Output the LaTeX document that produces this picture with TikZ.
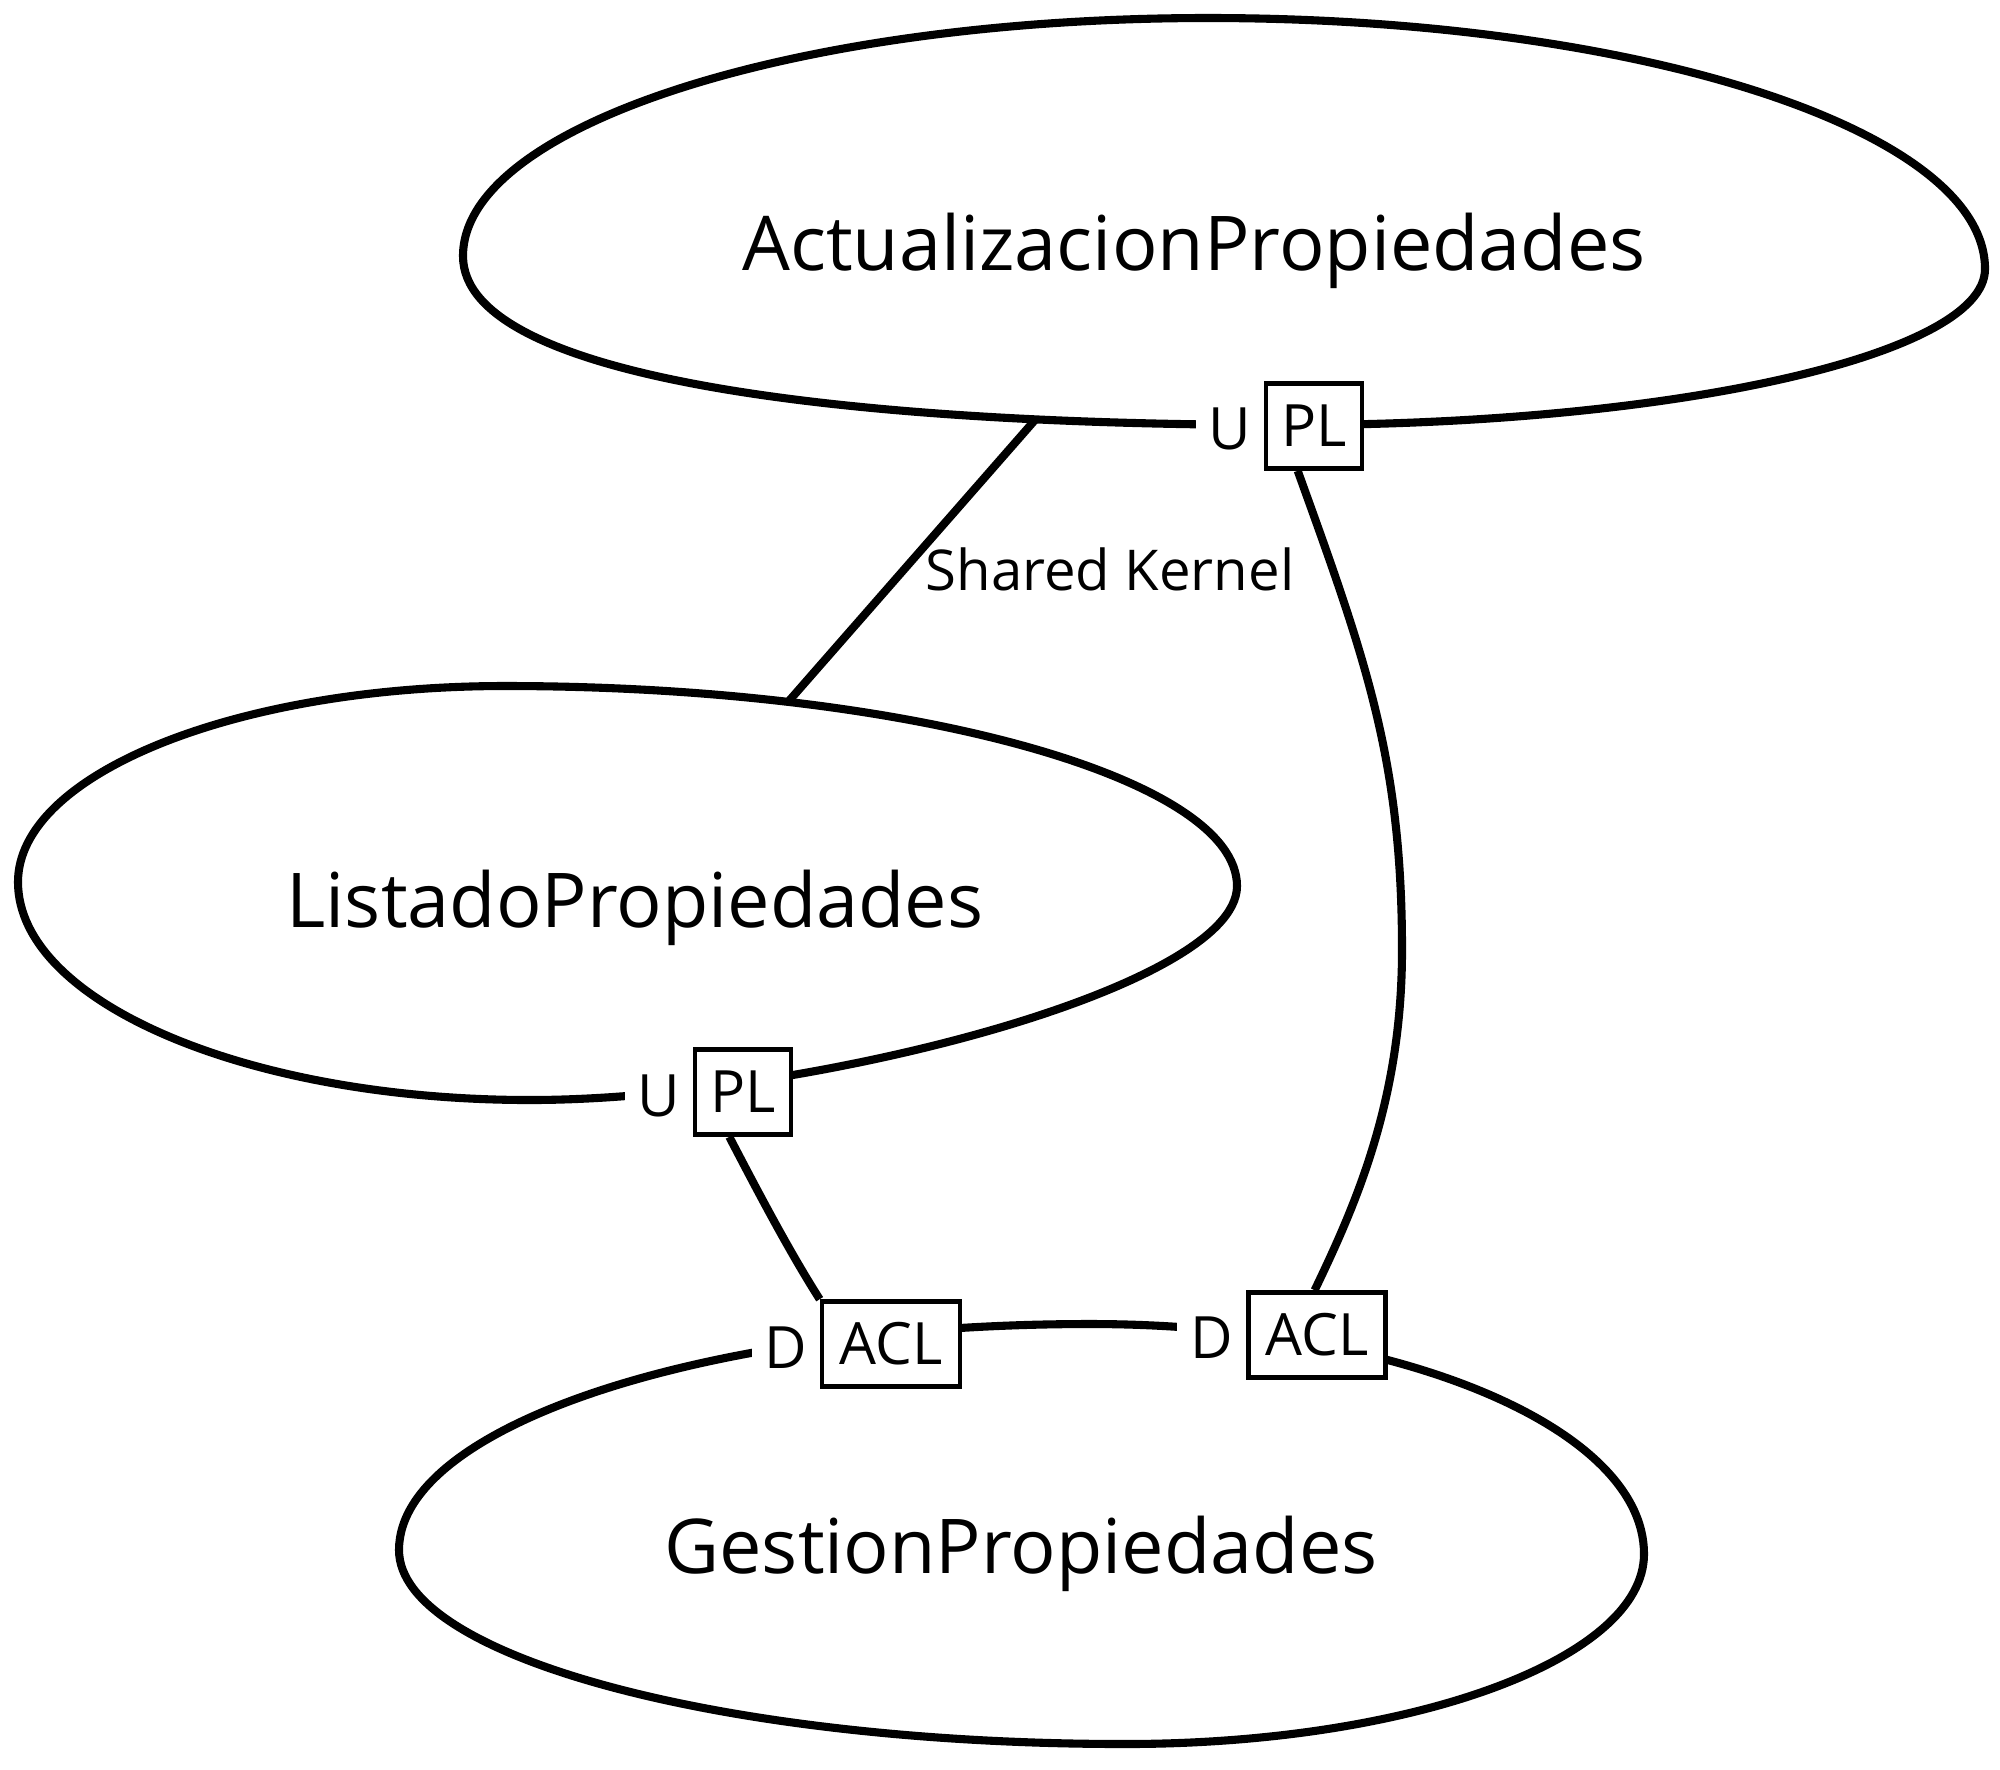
\documentclass[tikz,border=0pt]{standalone}
\usepackage{fontspec}
\setmainfont{Open Sans}
\begin{document}
\begin{tikzpicture}[x=0.01cm,y=-0.01cm,
  ctx/.style={line width=2.3pt},
  lbl/.style={font=\fontsize{16}{18}\selectfont, inner sep=0pt},
  box/.style={draw, line width=1.3pt, fill=white, minimum height=0.85cm, inner sep=0pt, font=\fontsize{16.6}{18}\selectfont},
  ud/.style={fill=white, inner sep=0pt, minimum height=0.6cm, font=\fontsize{16.6}{18}\selectfont},
  title/.style={font=\fontsize{21.5}{25}\selectfont, anchor=base}]
\fill[white] (0,0) rectangle (2000,1769);
\useasboundingbox (0,0) rectangle (2000,1769);

% bounded contexts
\draw[ctx] (463,256) .. controls (463,125) and (797,18) .. (1208,18)
  .. controls (1637,18) and (1985,130) .. (1985,269)
  .. controls (1985,355) and (1674,425) .. (1290,425)
  .. controls (850,425) and (463,380) .. (463,256) -- cycle;
\draw[ctx] (18,882) .. controls (18,774) and (236,686) .. (505,686)
  .. controls (909,686) and (1237,778) .. (1237,886)
  .. controls (1237,990) and (800,1100) .. (530,1100)
  .. controls (247,1100) and (18,1002) .. (18,882) -- cycle;
\draw[ctx] (399,1550) .. controls (399,1425) and (708,1324) .. (1090,1324)
  .. controls (1396,1324) and (1644,1427) .. (1644,1554)
  .. controls (1644,1659) and (1412,1744) .. (1125,1744)
  .. controls (724,1744) and (399,1657) .. (399,1550) -- cycle;

\node[title] (t1) at (1194,270) {ActualizacionPropiedades};
\node[title] (t2) at (635,927) {ListadoPropiedades};
\node[title] (t3) at (1021,1573) {GestionPropiedades};

% shared kernel
\coordinate (sk1) at (1035,420);
\coordinate (sk2) at (788,702);
\draw[ctx] (sk1) -- (sk2);
\node[lbl, anchor=base] (skl) at (1110,590) {Shared Kernel};

% U / D labels
\node[ud, minimum width=0.68cm] (u1) at (1230,429) {U};
\node[ud, minimum width=0.68cm] (u2) at (659,1096) {U};
\node[ud, minimum width=0.68cm] (d1) at (786,1348) {D};
\node[ud, minimum width=0.69cm] (d2) at (1212,1338) {D};

% PL / ACL boxes
\node[box, minimum width=0.96cm] (pl1) at (1314,426) {PL};
\node[box, minimum width=0.96cm] (pl2) at (743,1092) {PL};
\node[box, minimum width=1.38cm] (acl1) at (891,1344) {ACL};
\node[box, minimum width=1.37cm] (acl2) at (1317,1335) {ACL};

% upstream-downstream relations
\coordinate (m1) at (1402,950);
\draw[ctx] (pl1.-110) .. controls (1366,660) and (1402,760) .. (m1)
  .. controls (1402,1100) and (1356,1204) .. (acl2.93);
\draw[ctx] (pl2.-107) .. controls (757,1190) and (789,1251) .. (acl1.north west);
\end{tikzpicture}
\end{document}
